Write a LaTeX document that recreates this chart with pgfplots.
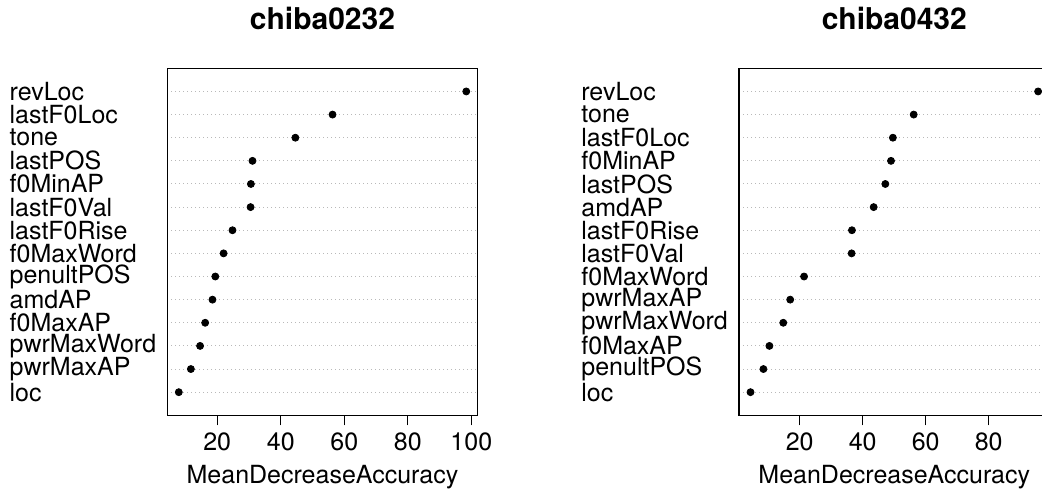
\documentclass[border=0pt]{standalone}
\usepackage{pgfplots}
\pgfplotsset{compat=1.18}
\usepackage{fontspec}
\setmainfont{TeX Gyre Heros}
\begin{document}
\begin{tikzpicture}
\useasboundingbox (0,0) rectangle (521pt,-246.5pt);
\clip (0,0) rectangle (521pt,-246.5pt);
\pgfplotsset{
  dotstyle/.style={
    scale only axis,
    width=155.2pt, height=173.5pt,
    ymin=0, ymax=15,
    ytick={1,...,14},
    xtick={20,40,60,80,100},
    tick align=outside,
    xtick pos=bottom, ytick pos=left,
    major tick length=5pt,
    ytick style={draw=none},
    xtick style={black, line width=0.6pt},
    axis line style={black, line width=0.6pt},
    ymajorgrids,
    grid style={gray!55, line width=0.5pt, dash pattern=on 0.5pt off 1.5pt},
    /pgf/number format/assume math mode=true,
    every tick label/.append style={font=\fontsize{12.5}{14}\selectfont},
    yticklabel style={anchor=west, inner sep=0pt, xshift=-74pt},
    title style={font=\fontsize{15}{18}\selectfont\bfseries, at={(0.5,1)}, anchor=base, yshift=13.5pt},
    xlabel style={font=\fontsize{12.5}{14}\selectfont, at={(axis description cs:0.5,0)}, anchor=base, yshift=-34pt},
    xlabel={MeanDecreaseAccuracy},
    clip=false,
  }
}
\begin{axis}[dotstyle,
  at={(83.65pt,-34.15pt)}, anchor=north west,
  xmin=4.28, xmax=102.0,
  title={chiba0232},
  yticklabels={loc,pwrMaxAP,pwrMaxWord,f0MaxAP,amdAP,penultPOS,f0MaxWord,lastF0Rise,lastF0Val,f0MinAP,lastPOS,tone,lastF0Loc,revLoc},
]
\addplot[only marks, mark=*, mark size=1.75pt, black] coordinates {
(7.9,1) (11.7,2) (14.6,3) (16.2,4) (18.5,5) (19.4,6) (22.0,7)
(24.8,8) (30.5,9) (30.6,10) (31.1,11) (44.6,12) (56.3,13) (98.4,14)};
\end{axis}
\begin{axis}[dotstyle,
  at={(369.5pt,-34.15pt)}, anchor=north west,
  width=155.3pt,
  xmin=0.75, xmax=99.35,
  title={chiba0432},
  yticklabels={loc,penultPOS,f0MaxAP,pwrMaxWord,pwrMaxAP,f0MaxWord,lastF0Val,lastF0Rise,amdAP,lastPOS,f0MinAP,lastF0Loc,tone,revLoc},
]
\addplot[only marks, mark=*, mark size=1.75pt, black] coordinates {
(4.4,1) (8.5,2) (10.4,3) (14.8,4) (17.0,5) (21.4,6) (36.5,7)
(36.6,8) (43.5,9) (47.2,10) (49.0,11) (49.6,12) (56.2,13) (95.7,14)};
\end{axis}
\end{tikzpicture}
\end{document}
